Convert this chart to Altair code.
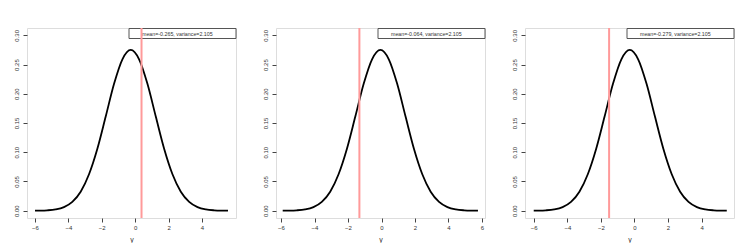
import altair as alt
import pandas as pd

# density values (same shape in every panel), offsets -5.5..5.5 around the peak
dens = [0.0001, 0.0002, 0.0007, 0.0022, 0.0061, 0.0150, 0.0324, 0.0623, 0.106, 0.161, 0.217, 0.259,
        0.275, 0.259, 0.217, 0.161, 0.106, 0.0623, 0.0324, 0.0150, 0.0061, 0.0022, 0.0007, 0.0002, 0.0001]

x1 = [-6.0, -5.765, -5.265, -4.765, -4.265, -3.765, -3.265, -2.765, -2.265, -1.765, -1.265, -0.765,
      -0.265, 0.235, 0.735, 1.235, 1.735, 2.235, 2.735, 3.235, 3.735, 4.235, 4.735, 5.235, 5.56]
x2 = [-5.9, -5.564, -5.064, -4.564, -4.064, -3.564, -3.064, -2.564, -2.064, -1.564, -1.064, -0.564,
      -0.064, 0.436, 0.936, 1.436, 1.936, 2.436, 2.936, 3.436, 3.936, 4.436, 4.936, 5.436, 5.76]
x3 = [-6.0, -5.779, -5.279, -4.779, -4.279, -3.779, -3.279, -2.779, -2.279, -1.779, -1.279, -0.779,
      -0.279, 0.221, 0.721, 1.221, 1.721, 2.221, 2.721, 3.221, 3.721, 4.221, 4.721, 5.221, 5.5]

red_x = [0.38, -1.32, -1.51]
legend_text = ["mean=-0.265, variance=2.105", "mean=-0.064, variance=2.105", "mean=-0.279, variance=2.105"]
x_domains = [[-6.48, 6.04], [-6.3, 6.18], [-6.52, 5.93]]
x_ticks = [[-6, -4, -2, 0, 2, 4], [-6, -4, -2, 0, 2, 4, 6], [-6, -4, -2, 0, 2, 4]]
y_ticks = [0.0, 0.05, 0.10, 0.15, 0.20, 0.25, 0.30]

W, H = 209, 190
FONT = "Liberation Sans"


def panel(i, xs):
    xscale = alt.Scale(domain=x_domains[i], nice=False, zero=False)
    yscale = alt.Scale(domain=[-0.0125, 0.3125], nice=False, zero=False)
    xaxis = alt.Axis(values=x_ticks[i], title="y", format="d", grid=False, domain=False,
                     tickSize=4, tickColor="#444", labelFontSize=6, labelColor="#333",
                     labelPadding=2, titleFontSize=7, titleFontWeight="normal", titleColor="#333",
                     titlePadding=5, labelFont=FONT, titleFont=FONT,
                     labelOverlap=False, labelFlush=False, labelBound=False)
    yaxis = alt.Axis(values=y_ticks, title=None, format=".2f", grid=False, domain=False,
                     tickSize=4, tickColor="#444", labelFontSize=6, labelColor="#333",
                     labelAngle=270, labelAlign="center", labelBaseline="bottom",
                     labelPadding=4, labelFont=FONT, labelOverlap=False, labelFlush=False)
    cdf = pd.DataFrame({"x": xs, "y": dens})
    curve = alt.Chart(cdf).mark_line(color="black", strokeWidth=1.8, interpolate="monotone").encode(
        x=alt.X("x:Q", scale=xscale, axis=xaxis),
        y=alt.Y("y:Q", scale=yscale, axis=yaxis),
    )
    ldf = pd.DataFrame({"t": [legend_text[i]]})
    box = alt.Chart(ldf).mark_rect(fill="white", stroke="#555", strokeWidth=1).encode(
        x=alt.value(W - 107), x2=alt.value(W), y=alt.value(0.5), y2=alt.value(10.5)
    )
    txt = alt.Chart(ldf).mark_text(align="left", baseline="middle", fontSize=5.3, font=FONT,
                                   color="#333").encode(
        x=alt.value(W - 94), y=alt.value(5.8), text="t:N"
    )
    rdf = pd.DataFrame({"x": [red_x[i]]})
    rule = alt.Chart(rdf).mark_rule(color="#ff9a9a", strokeWidth=2).encode(
        x=alt.X("x:Q", scale=xscale, axis=xaxis, title="y")
    )
    return alt.layer(curve, box, txt, rule).properties(width=W, height=H)


chart = alt.hconcat(panel(0, x1), panel(1, x2), panel(2, x3), spacing=40, bounds="flush").resolve_scale(
    x="independent"
).properties(
    padding={"left": 4, "top": 18, "right": 0, "bottom": 0}
).configure_view(stroke="#444", strokeWidth=1).configure(background="white")

chart.save("out.html", embed_options={"renderer": "svg", "actions": False})
